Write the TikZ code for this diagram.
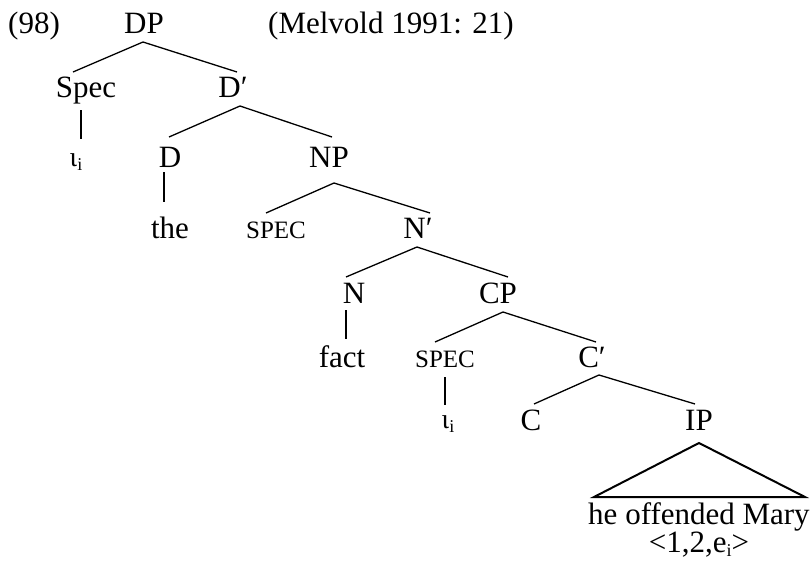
\documentclass[tikz,border=0pt]{standalone}
\usepackage{fontspec}
\setmainfont{Liberation Serif}
\usetikzlibrary{calc}
\newcommand\mysub[1]{{\fontsize{18}{18}\selectfont\raisebox{-4pt}{#1}}}
\begin{document}
\begin{tikzpicture}[x=1pt,y=-1pt,
  every node/.style={inner sep=0pt,anchor=base,font=\fontsize{31}{36}\selectfont},
  smallcap/.style={font=\fontsize{25}{28}\selectfont},
  iotastyle/.style={font=\fontsize{28}{30}\selectfont},
  branch/.style={line width=1.3pt},
  tri/.style={line width=2pt,line join=miter}]
\useasboundingbox (0,0) rectangle (812,565);
% nodes
\node[anchor=base west] (ex) at (8,33) {(98)};
\node (DP) at (144,33) {DP};
\node[anchor=base west] (cite) at (268,33) {(Melvold 1991: 21)};
\node (Spec) at (86,97) {Spec};
\node (Dbar) at (233,97) {D′};
\node[iotastyle] (iotaA) at (76,166) {ι\mysub{i}};
\node (D) at (170,167) {D};
\node (NP) at (329,167) {NP};
\node (the) at (170,238) {the};
\node[smallcap] (SpecB) at (276,238) {SPEC};
\node (Nbar) at (418,238) {N′};
\node (N) at (354,303) {N};
\node (CP) at (498,303) {CP};
\node (fact) at (342,367) {fact};
\node[smallcap] (SpecC) at (445,367) {SPEC};
\node (Cbar) at (592,367) {C′};
\node[iotastyle] (iotaB) at (448,428) {ι\mysub{i}};
\node (C) at (531,430) {C};
\node (IP) at (699,430) {IP};
\node (yield) at (699,524) {\vtop{\hsize=240pt\parindent=0pt\centering
  \baselineskip=28pt\lineskiplimit=-100pt\lineskip=0pt
  he offended Mary\par <1,2,e\mysub{i}>\par}};
% branches
\draw[branch] ($(DP.base)+(-1,9)$) -- ($(Spec.base)+(-13,-25)$);
\draw[branch] ($(DP.base)+(-1,9)$) -- ($(Dbar.base)+(4,-25)$);
\draw[branch] ($(Spec.base)+(-5,13)$) -- ($(Spec.base)+(-5,42)$);
\draw[branch] ($(Dbar.base)+(7,9)$) -- ($(D.base)+(-1,-30)$);
\draw[branch] ($(Dbar.base)+(7,9)$) -- ($(NP.base)+(3,-30)$);
\draw[branch] ($(D.base)+(-6,5)$) -- ($(the.base)+(-6,-36)$);
\draw[branch] ($(NP.base)+(5,16)$) -- ($(SpecB.base)+(-10,-25)$);
\draw[branch] ($(NP.base)+(5,16)$) -- ($(Nbar.base)+(12,-25)$);
\draw[branch] ($(Nbar.base)+(-1,9)$) -- ($(N.base)+(-8,-26)$);
\draw[branch] ($(Nbar.base)+(-1,9)$) -- ($(CP.base)+(10,-26)$);
\draw[branch] ($(N.base)+(-8,7)$) -- ($(fact.base)+(4,-28)$);
\draw[branch] ($(CP.base)+(5,9)$) -- ($(SpecC.base)+(-10,-25)$);
\draw[branch] ($(CP.base)+(5,9)$) -- ($(Cbar.base)+(4,-25)$);
\draw[branch] ($(SpecC.base)+(0,10)$) -- ($(SpecC.base)+(0,38)$);
\draw[branch] ($(Cbar.base)+(7,8)$) -- ($(C.base)+(3,-26)$);
\draw[branch] ($(Cbar.base)+(7,8)$) -- ($(IP.base)+(-4,-26)$);
% triangle
\draw[tri] ($(IP.base)+(0,13)$) -- ($(yield.base)+(-105,-27)$) -- ($(yield.base)+(106,-27)$) -- cycle;
\end{tikzpicture}
\end{document}
